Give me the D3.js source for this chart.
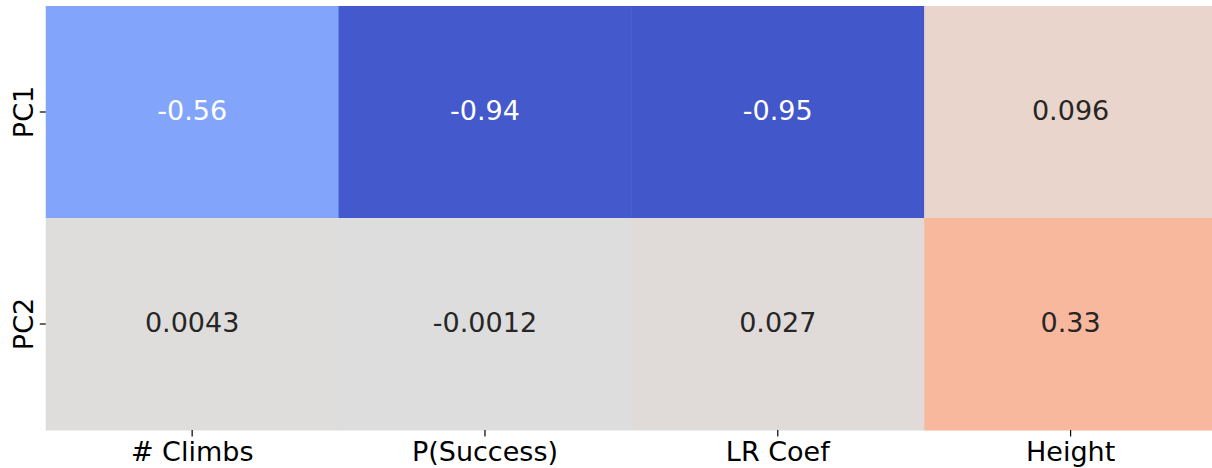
<!DOCTYPE html>
<html>
<head>
<meta charset="utf-8">
<script src="https://cdn.jsdelivr.net/npm/d3@7"></script>
<style>
  body { margin: 0; background: #fff; overflow: hidden; }
  svg { display: block; font-family: "DejaVu Sans", sans-serif; }
</style>
</head>
<body>
<svg id="drawing_region"></svg>
<script>
// heatmap data
const columns = ["# Climbs", "P(Success)", "LR Coef", "Height"];
const rows = ["PC1", "PC2"];
const pc1 = [-0.56, -0.94, -0.95, 0.096];
const pc2 = [0.0043, -0.0012, 0.027, 0.33];
const labels1 = ["-0.56", "-0.94", "-0.95", "0.096"];
const labels2 = ["0.0043", "-0.0012", "0.027", "0.33"];

// coolwarm colormap stops (Moreland)
const cw = [
  [59,76,192],[68,90,204],[77,104,215],[87,117,225],[98,130,234],[108,142,241],
  [119,154,247],[130,165,251],[141,176,254],[152,185,255],[163,194,255],[174,201,253],
  [184,208,249],[194,213,244],[204,217,238],[213,219,230],[221,221,221],[229,216,209],
  [236,211,197],[241,204,185],[245,196,173],[247,187,160],[247,177,148],[247,166,135],
  [244,154,123],[241,141,111],[236,127,99],[229,112,88],[222,96,77],[213,80,66],
  [203,62,56],[192,40,47],[180,4,38]
];

const cells = [];
rows.forEach((r, i) => {
    const vals = i === 0 ? pc1 : pc2;
    const labs = i === 0 ? labels1 : labels2;
    columns.forEach((c, j) => cells.push({row: r, col: c, value: vals[j], label: labs[j]}));
});

const config = {
    width: 1212,
    height: 468,
    margin: {top: 6, right: -5, bottom: 38, left: 45.75}
};

const svg = d3.select('#drawing_region')
    .attr('width', config.width)
    .attr('height', config.height);

const inner_width = config.width - config.margin.left - config.margin.right;
const inner_height = config.height - config.margin.top - config.margin.bottom;

const chart = svg.append('g')
    .attr('transform', `translate(${config.margin.left}, ${config.margin.top})`);

const xscale = d3.scaleBand().domain(columns).range([0, inner_width]);
const yscale = d3.scaleBand().domain(rows).range([0, inner_height]);

const cmap = d3.scaleLinear()
    .domain(cw.map((d, i) => i / (cw.length - 1)))
    .range(cw.map(d => d3.rgb(d[0], d[1], d[2])))
    .interpolate(d3.interpolateRgb);
const norm = d3.scaleLinear().domain([-1, 1]).range([0, 1]).clamp(true);
const color = v => cmap(norm(v));

function luminance(c) {
    const rgb = d3.rgb(c);
    const f = x => { x /= 255; return x <= 0.03928 ? x / 12.92 : Math.pow((x + 0.055) / 1.055, 2.4); };
    return 0.2126 * f(rgb.r) + 0.7152 * f(rgb.g) + 0.0722 * f(rgb.b);
}

chart.selectAll('rect').data(cells).enter()
    .append('rect')
    .attr('x', d => xscale(d.col))
    .attr('y', d => yscale(d.row))
    .attr('width', xscale.bandwidth() + 0.5)
    .attr('height', yscale.bandwidth() + 0.5)
    .attr('fill', d => color(d.value));

chart.selectAll('text.annot').data(cells).enter()
    .append('text')
    .attr('class', 'annot')
    .attr('x', d => xscale(d.col) + xscale.bandwidth() / 2)
    .attr('y', d => yscale(d.row) + yscale.bandwidth() / 2 - 2)
    .attr('text-anchor', 'middle')
    .attr('dominant-baseline', 'central')
    .attr('font-size', '27px')
    .attr('fill', d => luminance(color(d.value)) > 0.408 ? '#262626' : '#ffffff')
    .text(d => d.label);

const xaxis = d3.axisBottom(xscale).tickSize(6.5).tickPadding(5).tickSizeOuter(0);
const yaxis = d3.axisLeft(yscale).tickSize(6).tickPadding(6).tickSizeOuter(0);

const xg = chart.append('g')
    .attr('transform', `translate(0, ${inner_height})`)
    .call(xaxis);
xg.select('.domain').remove();
xg.selectAll('line').attr('stroke', '#000').attr('stroke-width', 1.2);
xg.selectAll('text')
    .attr('font-size', '27px')
    .attr('font-family', '"DejaVu Sans", sans-serif')
    .attr('fill', '#000');

const yg = chart.append('g').call(yaxis);
yg.select('.domain').remove();
yg.selectAll('line').attr('stroke', '#000').attr('stroke-width', 1.2);
yg.selectAll('text')
    .attr('font-size', '27px')
    .attr('font-family', '"DejaVu Sans", sans-serif')
    .attr('fill', '#000')
    .attr('text-anchor', 'middle')
    .attr('dy', 0)
    .attr('x', 0)
    .attr('y', 0)
    .attr('transform', 'translate(-12.5, 0) rotate(-90)');
</script>
</body>
</html>
